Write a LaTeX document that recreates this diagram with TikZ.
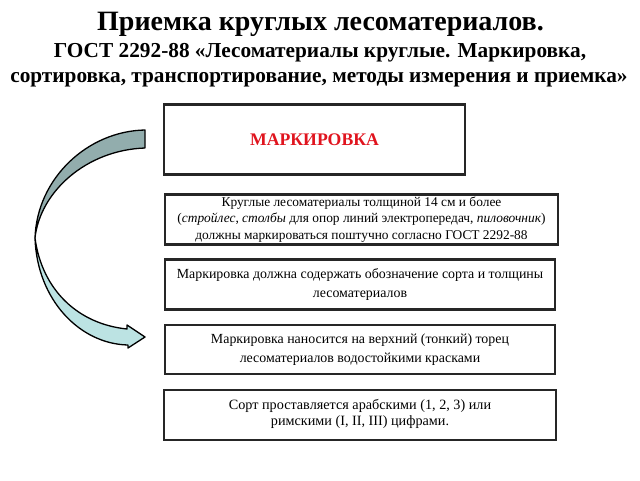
\documentclass[tikz,border=0pt]{standalone}
\usepackage{fontspec}
\setmainfont{Liberation Serif}
\begin{document}
\begin{tikzpicture}[x=1pt,y=-1pt,
  box/.style={draw=black!85, line width=2.2pt, rectangle, inner sep=0pt, align=center},
  ttl/.style={font=\bfseries\fontsize{28}{32}\selectfont, anchor=base},
  sub/.style={font=\bfseries\fontsize{21.3}{25}\selectfont, anchor=base},
  arrowline/.style={draw=black, line width=1.3pt, line join=round}
]
\definecolor{arrdark}{HTML}{92ADAD}
\definecolor{arrlight}{HTML}{BCE3E3}
\definecolor{markred}{HTML}{E0141E}
\useasboundingbox (0,0) rectangle (640,480);

\node[ttl] (t1) at (320.5,30) {Приемка круглых лесоматериалов.};
\node[sub] (t2) at (320,57) {ГОСТ 2292-88 «Лесоматериалы круглые. Маркировка,};
\node[sub] (t3) at (319,82) {сортировка, транспортирование, методы измерения и приемка»};

\node[box, minimum width=301, minimum height=70] (b1) at (314.5,139.5)
  {\textcolor{markred}{\bfseries\fontsize{17.7}{20}\selectfont МАРКИРОВКА}};
\node[box, font=\fontsize{13.4}{16.8}\selectfont, minimum width=393, minimum height=50] (b2) at (361.5,219.5)
  {Круглые лесоматериалы толщиной 14 см и более\\
   (\textit{стройлес}, \textit{столбы} для опор линий электропередач, \textit{пиловочник})\\
   должны маркироваться поштучно согласно ГОСТ 2292-88};
\node[box, font=\fontsize{13.9}{19}\selectfont, minimum width=390, minimum height=50] (b3) at (360,284.5)
  {Маркировка должна содержать обозначение сорта и толщины\\ лесоматериалов};
\node[box, font=\fontsize{13.9}{19}\selectfont, minimum width=390, minimum height=49] (b4) at (360,349.5)
  {Маркировка наносится на верхний (тонкий) торец\\ лесоматериалов водостойкими красками};
\node[box, font=\fontsize{14.2}{16.5}\selectfont, minimum width=392, minimum height=50, text depth=5pt] (b5) at (360,415)
  {Сорт проставляется арабскими (1, 2, 3) или\\ римскими (I, II, III) цифрами.};

% curved arrow
\path[arrowline, fill=arrdark] (145,130) .. controls (88,131) and (37,178) .. (35,238)
  .. controls (40,192) and (86,150) .. (145,148) -- cycle;
\path[arrowline, fill=arrlight] (35,238) .. controls (37,300) and (80,344) .. (128,345)
  -- (128,348) -- (145,337) -- (127,325) -- (127,329)
  .. controls (78,324) and (42,290) .. (35,238) -- cycle;
\end{tikzpicture}
\end{document}
